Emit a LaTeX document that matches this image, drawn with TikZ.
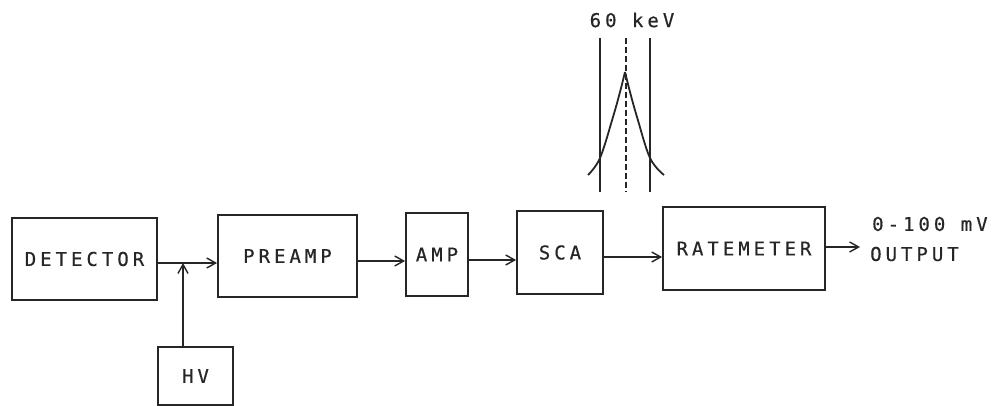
\documentclass[tikz,border=0pt]{standalone}
\usepackage{fontspec}
\setmonofont{DejaVu Sans Mono}
\newfontfamily\plotfont[LetterSpace=21, FakeBold=0.6]{DejaVu Sans Mono}
\usetikzlibrary{arrows.meta}
\definecolor{ink}{gray}{0.15}
\tikzset{
  box/.style={draw=ink, line width=1.8pt, rectangle, inner sep=0pt, font=\plotfont\fontsize{19}{19}\selectfont, text=ink},
  lbl/.style={inner sep=0pt, font=\plotfont\fontsize{19}{19}\selectfont, text=ink},
  arr/.style={draw=ink, line width=1.6pt, -{Straight Barb[length=9pt,width=10pt,line width=1.4pt]}},
  ln/.style={draw=ink, line width=2pt},
}
\begin{document}
\begin{tikzpicture}[x=1pt,y=-1pt]
\useasboundingbox (0,0) rectangle (1001,406);
% boxes
\node[box, minimum width=145pt, minimum height=82pt] (det) at (84.5,259) {DETECTOR};
\node[box, minimum width=139pt, minimum height=82pt] (pre) at (287.5,256) {PREAMP};
\node[box, minimum width=62pt, minimum height=83pt] (amp) at (437,254.5) {AMP};
\node[box, minimum width=86pt, minimum height=83pt] (sca) at (560,252.5) {SCA};
\node[box, minimum width=162pt, minimum height=83pt] (rat) at (744,248.5) {RATEMETER};
\node[box, minimum width=75pt, minimum height=58pt] (hv) at (195.5,376) {HV};
% output labels
\node[lbl, anchor=west] (mv) at (872,224) {0-100 mV};
\node[lbl, anchor=west] (out) at (870,254) {OUTPUT};
\coordinate (outend) at (860,247);
% connectors
\coordinate (j) at (183,263);
\coordinate (hvtop) at (183,347);
\draw[arr] (det.east |- j) -- (pre.west |- j);
\draw[arr] (hvtop) -- (j);
\draw[arr] ([yshift=-5pt]pre.east) -- ([yshift=-5pt]pre.east -| amp.west);
\draw[arr] ([yshift=-5.5pt]amp.east) -- ([yshift=-5.5pt]amp.east -| sca.west);
\draw[arr] ([yshift=-4.5pt]sca.east) -- ([yshift=-4.5pt]sca.east -| rat.west);
\draw[arr] (rat.east |- outend) -- (outend);
% energy window sketch
\node[lbl] (kev) at (632,20) {60 keV};
\draw[ln] (600,38) -- (600,192);
\draw[ln] (650,38) -- (650,192);
\draw[ln, dash pattern=on 6pt off 3pt] (626,38) -- (626,192);
\draw[ln, line width=1.8pt] plot[smooth, tension=0.6] coordinates {(588,175) (600,158) (613,117) (620,92) (625,72)};
\draw[ln, line width=1.8pt] plot[smooth, tension=0.6] coordinates {(664,175) (650,158) (637,117) (630,92) (625,72)};
\end{tikzpicture}
\end{document}
